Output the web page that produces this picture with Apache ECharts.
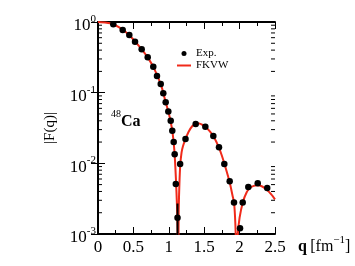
<!DOCTYPE html>
<html><head><meta charset="utf-8">
<script src="https://cdn.jsdelivr.net/npm/echarts@6/dist/echarts.min.js"></script>
<style>html,body{margin:0;padding:0;background:#fff}#c{width:355px;height:266px}</style>
</head><body><div id="c"></div>
<script>
// Experimental points [q, |F(q)|]
const expData = [
  [0.216,0.93],[0.349,0.77],[0.442,0.655],[0.523,0.526],[0.617,0.411],[0.702,0.317],
  [0.781,0.233],[0.833,0.172],[0.886,0.133],[0.922,0.098],[0.956,0.073],[0.993,0.054],
  [1.027,0.040],[1.049,0.029],[1.069,0.0201],[1.083,0.0134],[1.099,0.0051],[1.123,0.0017],
  [1.160,0.0098],[1.236,0.0221],[1.380,0.036],[1.516,0.033],[1.629,0.0244],[1.709,0.0169],
  [1.784,0.0098],[1.860,0.0056],[1.921,0.00278],[2.006,0.00121],[2.044,0.00278],
  [2.123,0.00464],[2.256,0.00523],[2.390,0.00449]
];
// FKVW curve [q, |F(q)|]
const fkvwData = [
  [0,1],[0.1,0.985],[0.216,0.93],[0.3,0.84],[0.4,0.71],[0.5,0.565],[0.6,0.43],[0.7,0.318],
  [0.8,0.212],[0.9,0.12],[0.95,0.077],[1.0,0.051],[1.05,0.0285],[1.08,0.0145],[1.10,0.0062],
  [1.115,0.0026],[1.125,0.0011],[1.132,0.0003],[1.14,0.0022],[1.15,0.0052],[1.162,0.0095],
  [1.18,0.0142],[1.2,0.0175],[1.236,0.0221],[1.28,0.028],[1.33,0.0335],[1.38,0.0362],
  [1.43,0.0365],[1.48,0.0348],[1.52,0.0328],[1.58,0.0283],[1.63,0.0242],[1.7,0.0175],
  [1.75,0.0128],[1.8,0.0088],[1.86,0.0054],[1.9,0.0035],[1.921,0.0028],[1.935,0.0018],
  [1.945,0.001],[1.952,0.0004],[1.965,0.0006],[1.975,0.001],[2.0,0.0017],[2.045,0.0028],
  [2.1,0.0039],[2.15,0.0045],[2.2,0.0048],[2.25,0.0049],[2.32,0.0047],[2.4,0.0041],
  [2.45,0.0036],[2.5,0.0031]
];
// error bar at the first minimum
const errBar = [[1.123,0.0027],[1.123,0.0004]];
// x axis range / ticks
const xMin = 0, xMax = 2.5, xStep = 0.5;
// y axis decades
const yMin = 0.001, yMax = 1;
const yMinorTicks = [];
[0.001,0.01,0.1].forEach(d=>{for(let k=2;k<=9;k++) yMinorTicks.push(+(d*k).toPrecision(3));});

const serif = '"Liberation Serif","DejaVu Serif",serif';
const chart = echarts.init(document.getElementById('c'));
const axisLineStyle = {color:'#000', width:2};
function expLabel(v){
  const e = Math.round(Math.log10(v));
  return '{b|10}{s|' + e + '}';
}
const richY = {
  b:{fontFamily:serif,fontSize:17,color:'#000',verticalAlign:'bottom',padding:[8,0,0,0]},
  s:{fontFamily:serif,fontSize:11,color:'#000',verticalAlign:'top',padding:[4,0,0,0]}
};
chart.setOption({
  animation:false,
  grid:{left:98, top:22, right:80, bottom:32, containLabel:false},
  legend:{
    orient:'vertical', left:172, top:43, itemGap:1, itemWidth:14, itemHeight:5,
    symbolKeepAspect:true,
    textStyle:{fontFamily:serif, fontSize:11, color:'#000'},
    data:[{name:'Exp.', icon:'circle'},{name:'FKVW', icon:'path://M0,0H14V2H0Z'}]
  },
  xAxis:[{
    type:'value', min:xMin, max:xMax, interval:xStep, position:'bottom',
    axisLine:{show:true,lineStyle:axisLineStyle},
    axisTick:{inside:true,length:7,lineStyle:{color:'#000',width:1}},
    minorTick:{show:true,splitNumber:2,length:4,lineStyle:{color:'#000',width:1}},
    splitLine:{show:false},
    axisLabel:{fontFamily:serif,fontSize:17,color:'#000',margin:5},
    name:'{q|q} {n|[fm}{s|−1}{n|]}', nameLocation:'end', nameGap:23,
    nameTextStyle:{rich:{
      q:{fontFamily:serif,fontSize:16,fontWeight:'bold',color:'#000',verticalAlign:'bottom',padding:[26,0,0,0]},
      n:{fontFamily:serif,fontSize:16,color:'#000',verticalAlign:'bottom',padding:[26,0,0,0]},
      s:{fontFamily:serif,fontSize:11,color:'#000',verticalAlign:'top',padding:[22,0,0,0]}
    }}
  },{
    type:'value', min:xMin, max:xMax, interval:xStep, position:'top',
    axisLine:{show:true,lineStyle:axisLineStyle},
    axisTick:{inside:true,length:7,lineStyle:{color:'#000',width:1}},
    minorTick:{show:true,splitNumber:2,length:4,lineStyle:{color:'#000',width:1}},
    splitLine:{show:false}, axisLabel:{show:false}
  }],
  yAxis:[{
    type:'log', logBase:10, min:yMin, max:yMax, interval:1, position:'left',
    axisLine:{show:true,lineStyle:axisLineStyle},
    axisTick:{inside:true,length:7,lineStyle:{color:'#000',width:1}},
    splitLine:{show:false},
    axisLabel:{formatter:expLabel, rich:richY, margin:2},
    name:'|F(q)|', nameLocation:'middle', nameGap:40, nameRotate:90,
    nameTextStyle:{fontFamily:serif,fontSize:15,color:'#000'}
  },{
    type:'log', logBase:10, min:yMin, max:yMax, interval:1, position:'right',
    axisLine:{show:true,lineStyle:axisLineStyle},
    axisTick:{inside:true,length:7,lineStyle:{color:'#000',width:1}},
    splitLine:{show:false}, axisLabel:{show:false}
  }],
  graphic:[{
    type:'text', left:111, top:109,
    style:{
      text:'{s|48}{b|Ca}',
      rich:{
        s:{fontFamily:serif,fontSize:10,fill:'#000',verticalAlign:'top'},
        b:{fontFamily:serif,fontSize:16,fontWeight:'bold',fill:'#000',padding:[5,0,0,0]}
      }
    }
  }],
  series:[
    {
      type:'custom', name:'minorTicks', silent:true, clip:false, z:5,
      data:yMinorTicks.map(v=>[v]),
      encode:{y:0},
      renderItem:function(params, api){
        const v = api.value(0);
        const pL = api.coord([xMin, v]);
        const pR = api.coord([xMax, v]);
        return {type:'group', children:[
          {type:'line', shape:{x1:pL[0], y1:pL[1], x2:pL[0]+4, y2:pL[1]}, style:{stroke:'#000', lineWidth:1}},
          {type:'line', shape:{x1:pR[0], y1:pR[1], x2:pR[0]-4, y2:pR[1]}, style:{stroke:'#000', lineWidth:1}}
        ]};
      }
    },
    {
      type:'line', name:'FKVW', data:fkvwData, symbol:'none', smooth:0.2, clip:true,
      lineStyle:{color:'#f02a1a', width:2}, itemStyle:{color:'#f02a1a'}, z:3
    },
    {
      type:'line', name:'err', data:errBar, symbol:'none', clip:true,
      lineStyle:{color:'#000', width:2}, z:4
    },
    {
      type:'scatter', name:'Exp.', data:expData, symbol:'circle', symbolSize:6.5,
      itemStyle:{color:'#000', opacity:1}, z:6
    }
  ]
});
</script></body></html>
